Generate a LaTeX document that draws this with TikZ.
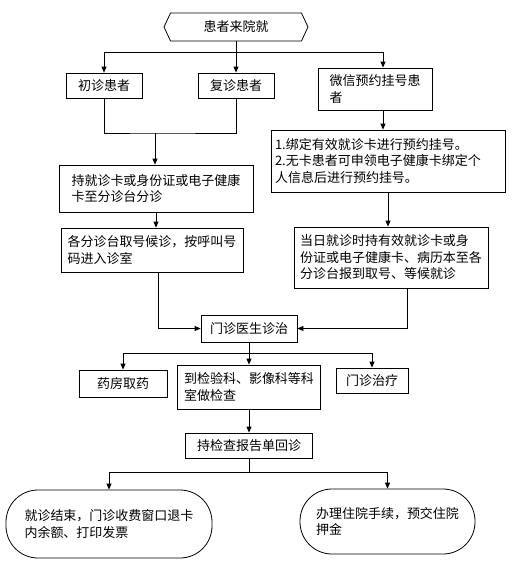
\documentclass[tikz,border=0pt]{standalone}
\usepackage{fontspec}
\newfontfamily\cjk{Noto Sans CJK SC}
\usetikzlibrary{arrows.meta,shapes.symbols}

\begin{document}
\begin{tikzpicture}[x=1pt,y=-1pt,line width=0.8pt,
  every node/.style={font={\cjk\fontsize{13}{16.5}\selectfont},inner sep=2pt},
  box/.style={draw,align=left},
  pill/.style={box,rounded corners=32pt},
  arr/.style={-{Triangle[length=6pt,width=5pt]}}]
\useasboundingbox (0,0) rectangle (512,566);

\node[draw,shape=signal,signal to=west and east,signal pointer angle=130,
      minimum width=144pt,minimum height=28pt] (arrive) at (236,27) {患者来院就};

\node[box,minimum width=76pt,minimum height=25pt] (first) at (104,85.5) {初诊患者};
\node[box,minimum width=76pt,minimum height=25pt] (repeat) at (236,85.5) {复诊患者};
\node[box,minimum width=114pt,minimum height=42pt] (wechat) at (375,89) {微信预约挂号患\\者};

\node[box,minimum width=194pt,minimum height=47pt] (card) at (156,188.5)
  {持就诊卡或身份证或电子健康\\卡至分诊台分诊};
\node[box,minimum width=182pt,minimum height=44pt] (queue) at (152,250)
  {各分诊台取号候诊，按呼叫号\\码进入诊室};
\node[box,minimum width=234pt,minimum height=62pt,text width=226pt] (bind) at (388,161)
  {1.绑定有效就诊卡进行预约挂号。\\2.无卡患者可申领电子健康卡绑定个\\人信息后进行预约挂号。};
\node[box,minimum width=194pt,minimum height=61pt] (today) at (391,257.5)
  {当日就诊时持有效就诊卡或身\\份证或电子健康卡、病历本至各\\分诊台报到取号、等候就诊};

\node[box,minimum width=96pt,minimum height=27pt] (doctor) at (249,328.5) {门诊医生诊治};
\node[box,minimum width=88pt,minimum height=27pt] (drug) at (123,383.5) {药房取药};
\node[box,minimum width=143pt,minimum height=44pt] (exam) at (249,387)
  {到检验科、影像科等科\\室做检查};
\node[box,minimum width=72pt,minimum height=25pt] (treat) at (372,380.5) {门诊治疗};
\node[box,minimum width=127pt,minimum height=25pt] (back) at (249,445.5) {持检查报告单回诊};

\node[pill,minimum width=206pt,minimum height=68pt] (finish) at (109,524)
  {就诊结束，门诊收费窗口退卡\\内余额、打印发票};
\node[pill,minimum width=175pt,minimum height=65pt] (admit) at (387.5,521.5)
  {办理住院手续，预交住院\\押金};

\coordinate (split1) at (236,52);
\coordinate (merge) at (155,133);
\coordinate (split2) at (249,353);
\coordinate (split3) at (249,472);

\draw (arrive) -- (split1);
\draw[arr] (split1) -| (first);
\draw[arr] (split1) -- (repeat);
\draw[arr] (split1) -| ([xshift=8pt]wechat.north);
\draw (first) |- (merge) -| (repeat);
\draw[arr] (merge) -- (merge |- card.north);
\draw[arr] (card.south) -- (card.south |- queue.north);
\draw[arr] ([xshift=6pt]queue.south) |- (doctor.west);
\draw[arr] ([xshift=8pt]wechat.south) -- ([xshift=8pt]wechat.south |- bind.north);
\draw[arr] (bind.south) -- (bind.south |- today.north);
\draw[arr] ([xshift=16pt]today.south) |- (doctor.east);
\draw (doctor) -- (split2);
\draw[arr] (split2) -| (drug);
\draw[arr] (split2) -- (exam);
\draw[arr] (split2) -| (treat);
\draw[arr] (exam) -- (back);
\draw (back) -- (split3);
\draw[arr] (split3) -| (finish);
\draw[arr] (split3) -| (admit);
\end{tikzpicture}
\end{document}
